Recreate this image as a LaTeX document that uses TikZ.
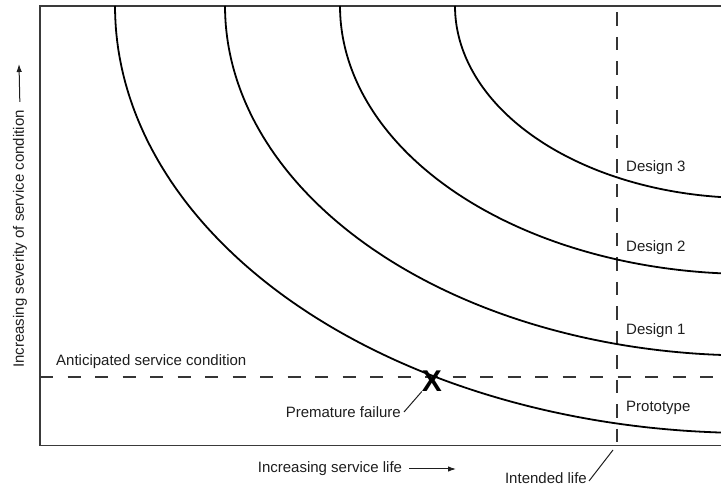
\documentclass[tikz,border=0pt]{standalone}
\usepackage{fontspec}
\setmainfont{Liberation Sans}
\usetikzlibrary{arrows.meta}
\definecolor{ink}{HTML}{1E1E1E}
\definecolor{frameclr}{HTML}{3A3A3A}
\tikzset{
  frameline/.style={draw=frameclr, line width=1.4pt},
  curve/.style={draw=black, line width=1.8pt},
  hdash/.style={draw=ink!90, line width=2.2pt, dash pattern=on 13pt off 14.5pt},
  vdash/.style={draw=ink!90, line width=2.2pt, dash pattern=on 13.5pt off 11pt},
  lbl/.style={text=ink, font=\fontsize{15}{17}\selectfont, inner sep=0pt},
  leader/.style={draw=ink, line width=1pt},
  axarrow/.style={draw=ink, line width=1pt, -{Latex[length=8pt,width=5.5pt]}},
}
\begin{document}
\begin{tikzpicture}[x=1pt,y=-1pt]
\useasboundingbox (0,0) rectangle (721,486);
% frame
\draw[frameline] (721,6) -- (40,6) -- (40,445.5) -- (721,445.5);
% dashed reference lines
\draw[hdash] (40,377) -- (721,377);
\draw[vdash] (617,12.5) -- (617,445.5);
% curves (concentric quarter ellipses)
\begin{scope}
\clip (0,0) rectangle (721,486);
\draw[curve] plot[domain=90:180, samples=120] ({750+635*cos(\x)},{6+427*sin(\x)});
\draw[curve] plot[domain=90:180, samples=120] ({750+525*cos(\x)},{6+349.5*sin(\x)});
\draw[curve] plot[domain=90:180, samples=120] ({750+410*cos(\x)},{6+268*sin(\x)});
\draw[curve] plot[domain=90:180, samples=120] ({750+295*cos(\x)},{6+192*sin(\x)});
\end{scope}
% failure marker
\node[text=black, inner sep=0pt, font=\fontsize{30}{30}\selectfont\bfseries] (xm) at (432,381) {X};
% labels
\node[lbl, anchor=west] (d3) at (626,168) {Design 3};
\node[lbl, anchor=west] (d2) at (626,248) {Design 2};
\node[lbl, anchor=west] (d1) at (626,331) {Design 1};
\node[lbl, anchor=west] (pt) at (626,408) {Prototype};
\node[lbl, anchor=west] (asc) at (56,362) {Anticipated service condition};
\node[lbl, anchor=east] (pf) at (401,412) {Premature failure};
\node[lbl, anchor=east] (il) at (587,478) {Intended life};
\coordinate (ilend) at (613,450);
\draw[leader] ([xshift=3pt]pf.east) -- (xm.south west);
\draw[leader] ([xshift=2pt,yshift=-3pt]il.east) -- (ilend);
% axis labels
\node[lbl, rotate=90] (ylab) at (20,239) {Increasing severity of service condition};
\coordinate (ytip) at (19,64);
\draw[axarrow, shorten <=8pt] (ylab.east) -- (ytip);
\node[lbl] (xlab) at (330,469) {Increasing service life};
\coordinate (xtip) at (456,469);
\draw[axarrow, shorten <=7pt] (xlab.east) -- (xtip);
\end{tikzpicture}
\end{document}
